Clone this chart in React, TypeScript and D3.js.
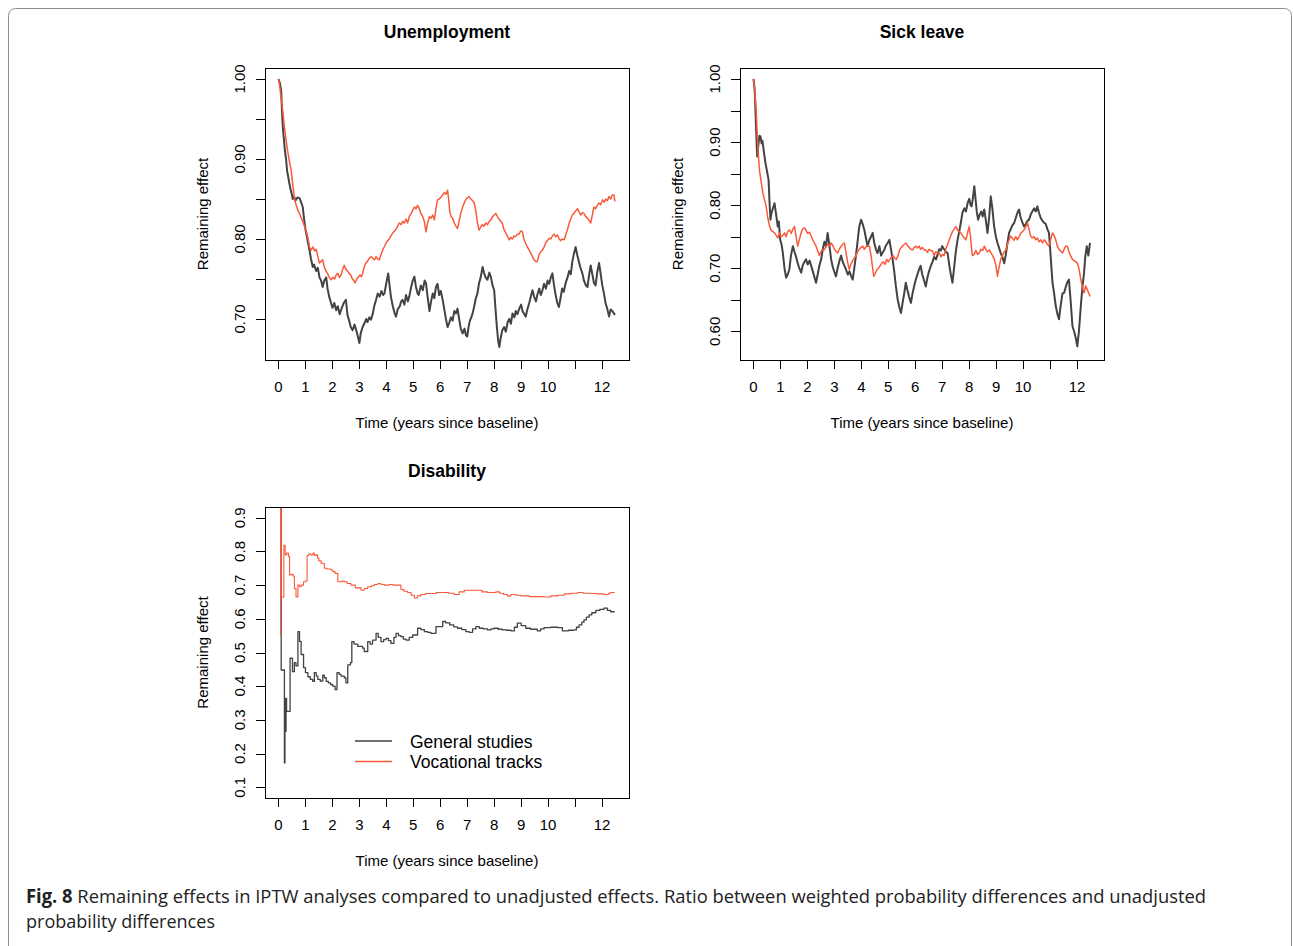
import React from 'react';
import * as d3 from 'd3';

// ---- data: [years since baseline, remaining effect] ----
const unemploymentGeneral: [number, number][] = [
  [0,1.0],[0.05,0.995],[0.1,0.985],[0.13,0.96],[0.16,0.94],[0.2,0.925],[0.24,0.91],[0.28,0.9],[0.32,0.885],[0.36,0.878],[0.4,0.87],[0.45,0.862],[0.5,0.855],[0.53,0.85],[0.58,0.853],[0.63,0.848],[0.7,0.852],[0.78,0.851],[0.84,0.846],[0.9,0.84],[0.95,0.825],[1.0,0.812],[1.03,0.807],[1.08,0.798],[1.15,0.786],[1.2,0.776],[1.27,0.765],[1.32,0.768],[1.4,0.76],[1.46,0.764],[1.52,0.752],[1.58,0.748],[1.64,0.74],[1.7,0.748],[1.77,0.752],[1.82,0.738],[1.88,0.728],[1.95,0.72],[2.0,0.714],[2.07,0.72],[2.14,0.711],[2.2,0.716],[2.27,0.706],[2.35,0.714],[2.42,0.72],[2.5,0.724],[2.56,0.705],[2.62,0.698],[2.68,0.69],[2.75,0.686],[2.82,0.693],[2.9,0.684],[2.96,0.676],[3.0,0.67],[3.05,0.682],[3.12,0.69],[3.18,0.694],[3.25,0.7],[3.3,0.696],[3.37,0.702],[3.43,0.699],[3.5,0.707],[3.55,0.716],[3.62,0.724],[3.68,0.732],[3.75,0.728],[3.82,0.735],[3.88,0.73],[3.93,0.732],[4.0,0.745],[4.07,0.757],[4.12,0.742],[4.17,0.728],[4.24,0.716],[4.3,0.708],[4.36,0.703],[4.42,0.712],[4.5,0.716],[4.55,0.722],[4.6,0.724],[4.67,0.718],[4.73,0.73],[4.8,0.722],[4.85,0.728],[4.92,0.74],[4.98,0.748],[5.04,0.753],[5.1,0.74],[5.16,0.732],[5.2,0.73],[5.28,0.742],[5.35,0.736],[5.42,0.748],[5.47,0.745],[5.53,0.728],[5.6,0.71],[5.66,0.722],[5.72,0.732],[5.78,0.726],[5.84,0.74],[5.9,0.744],[5.96,0.73],[6.02,0.735],[6.09,0.724],[6.15,0.712],[6.21,0.7],[6.27,0.69],[6.33,0.695],[6.4,0.702],[6.46,0.698],[6.52,0.71],[6.58,0.707],[6.64,0.713],[6.7,0.7],[6.76,0.688],[6.83,0.682],[6.9,0.688],[6.95,0.68],[7.0,0.678],[7.05,0.69],[7.1,0.698],[7.15,0.702],[7.2,0.707],[7.26,0.716],[7.32,0.726],[7.38,0.732],[7.44,0.745],[7.5,0.752],[7.57,0.765],[7.62,0.758],[7.68,0.752],[7.75,0.749],[7.82,0.758],[7.88,0.752],[7.94,0.742],[8.0,0.736],[8.05,0.712],[8.1,0.69],[8.15,0.672],[8.19,0.665],[8.24,0.676],[8.3,0.686],[8.37,0.69],[8.43,0.684],[8.5,0.696],[8.56,0.7],[8.62,0.694],[8.68,0.707],[8.75,0.702],[8.8,0.71],[8.86,0.706],[8.93,0.713],[9.0,0.718],[9.05,0.71],[9.12,0.706],[9.17,0.703],[9.23,0.712],[9.3,0.72],[9.36,0.728],[9.42,0.736],[9.48,0.728],[9.55,0.722],[9.6,0.73],[9.67,0.738],[9.73,0.73],[9.79,0.736],[9.85,0.744],[9.92,0.738],[9.98,0.748],[10.04,0.744],[10.1,0.752],[10.16,0.757],[10.22,0.742],[10.28,0.73],[10.34,0.72],[10.4,0.715],[10.46,0.726],[10.52,0.738],[10.58,0.734],[10.65,0.745],[10.72,0.752],[10.78,0.76],[10.84,0.756],[10.9,0.772],[10.96,0.782],[11.02,0.79],[11.08,0.78],[11.14,0.772],[11.2,0.764],[11.27,0.757],[11.33,0.748],[11.4,0.742],[11.46,0.74],[11.52,0.755],[11.58,0.767],[11.64,0.756],[11.7,0.745],[11.76,0.742],[11.82,0.758],[11.89,0.77],[11.95,0.756],[12.01,0.742],[12.07,0.732],[12.13,0.72],[12.2,0.712],[12.26,0.703],[12.32,0.712],[12.38,0.71],[12.44,0.707],[12.48,0.705]
];
const unemploymentVocational: [number, number][] = [
  [0,1.0],[0.05,0.99],[0.1,0.975],[0.16,0.96],[0.22,0.94],[0.28,0.924],[0.34,0.91],[0.4,0.898],[0.47,0.886],[0.53,0.868],[0.6,0.849],[0.66,0.842],[0.72,0.836],[0.78,0.832],[0.85,0.826],[0.92,0.82],[0.98,0.814],[1.03,0.81],[1.1,0.8],[1.15,0.79],[1.21,0.786],[1.28,0.79],[1.34,0.785],[1.4,0.787],[1.46,0.778],[1.52,0.77],[1.58,0.772],[1.64,0.774],[1.7,0.765],[1.76,0.76],[1.82,0.757],[1.88,0.752],[1.95,0.749],[2.02,0.752],[2.08,0.75],[2.14,0.755],[2.2,0.757],[2.26,0.752],[2.32,0.755],[2.38,0.762],[2.44,0.767],[2.5,0.762],[2.56,0.76],[2.62,0.757],[2.68,0.755],[2.74,0.75],[2.8,0.748],[2.84,0.745],[2.9,0.75],[2.96,0.752],[3.02,0.755],[3.08,0.753],[3.12,0.757],[3.18,0.765],[3.24,0.77],[3.3,0.772],[3.37,0.776],[3.43,0.778],[3.5,0.776],[3.56,0.774],[3.62,0.778],[3.68,0.775],[3.74,0.774],[3.8,0.78],[3.86,0.786],[3.92,0.79],[3.99,0.795],[4.05,0.798],[4.11,0.8],[4.17,0.804],[4.23,0.807],[4.3,0.81],[4.36,0.812],[4.42,0.816],[4.48,0.82],[4.55,0.818],[4.61,0.822],[4.67,0.82],[4.73,0.825],[4.79,0.82],[4.85,0.828],[4.92,0.832],[4.98,0.836],[5.04,0.84],[5.1,0.838],[5.16,0.842],[5.22,0.838],[5.28,0.832],[5.35,0.828],[5.41,0.822],[5.47,0.809],[5.53,0.82],[5.6,0.828],[5.66,0.826],[5.72,0.83],[5.78,0.824],[5.84,0.838],[5.9,0.849],[5.96,0.85],[6.02,0.852],[6.09,0.855],[6.15,0.858],[6.21,0.856],[6.27,0.861],[6.31,0.85],[6.35,0.835],[6.4,0.828],[6.46,0.826],[6.52,0.82],[6.58,0.816],[6.64,0.813],[6.7,0.822],[6.76,0.832],[6.83,0.84],[6.9,0.846],[6.96,0.85],[7.02,0.852],[7.07,0.853],[7.13,0.85],[7.2,0.848],[7.26,0.845],[7.32,0.835],[7.38,0.82],[7.44,0.811],[7.5,0.815],[7.56,0.818],[7.62,0.816],[7.69,0.82],[7.75,0.818],[7.82,0.822],[7.88,0.824],[7.94,0.828],[8.0,0.83],[8.06,0.832],[8.12,0.828],[8.18,0.825],[8.24,0.822],[8.3,0.82],[8.36,0.812],[8.42,0.808],[8.5,0.803],[8.56,0.799],[8.62,0.802],[8.68,0.8],[8.74,0.804],[8.8,0.803],[8.86,0.806],[8.92,0.806],[8.98,0.81],[9.05,0.809],[9.1,0.8],[9.16,0.795],[9.23,0.79],[9.3,0.786],[9.36,0.782],[9.42,0.778],[9.48,0.774],[9.54,0.772],[9.6,0.772],[9.66,0.78],[9.72,0.784],[9.79,0.786],[9.85,0.79],[9.92,0.796],[9.98,0.798],[10.04,0.801],[10.1,0.8],[10.16,0.804],[10.22,0.806],[10.28,0.803],[10.35,0.805],[10.41,0.8],[10.47,0.798],[10.53,0.8],[10.6,0.799],[10.66,0.806],[10.72,0.812],[10.78,0.82],[10.84,0.825],[10.9,0.83],[10.96,0.832],[11.02,0.835],[11.09,0.838],[11.15,0.834],[11.21,0.83],[11.27,0.833],[11.33,0.832],[11.4,0.828],[11.46,0.826],[11.52,0.823],[11.58,0.82],[11.64,0.83],[11.7,0.84],[11.76,0.838],[11.82,0.842],[11.89,0.845],[11.95,0.843],[12.02,0.849],[12.08,0.846],[12.14,0.85],[12.2,0.848],[12.26,0.853],[12.32,0.85],[12.38,0.855],[12.44,0.855],[12.48,0.847]
];
const sickGeneral: [number, number][] = [
  [0,1.0],[0.04,0.985],[0.06,0.967],[0.09,0.93],[0.12,0.895],[0.14,0.877],[0.18,0.895],[0.22,0.91],[0.26,0.909],[0.3,0.898],[0.33,0.902],[0.36,0.893],[0.4,0.88],[0.44,0.868],[0.47,0.861],[0.51,0.852],[0.56,0.84],[0.6,0.8],[0.63,0.777],[0.67,0.788],[0.72,0.795],[0.78,0.803],[0.84,0.785],[0.9,0.766],[0.94,0.774],[0.99,0.745],[1.04,0.738],[1.09,0.724],[1.15,0.7],[1.21,0.685],[1.27,0.69],[1.33,0.698],[1.39,0.72],[1.46,0.735],[1.52,0.726],[1.58,0.718],[1.64,0.708],[1.7,0.7],[1.77,0.693],[1.83,0.705],[1.89,0.71],[1.95,0.714],[2.01,0.706],[2.08,0.712],[2.14,0.704],[2.2,0.695],[2.26,0.686],[2.32,0.677],[2.38,0.69],[2.45,0.705],[2.51,0.714],[2.57,0.73],[2.63,0.742],[2.69,0.735],[2.75,0.756],[2.82,0.735],[2.88,0.714],[2.94,0.702],[3.0,0.694],[3.06,0.687],[3.12,0.7],[3.19,0.712],[3.25,0.72],[3.31,0.71],[3.37,0.704],[3.43,0.698],[3.5,0.69],[3.56,0.695],[3.62,0.688],[3.68,0.682],[3.74,0.7],[3.8,0.72],[3.86,0.742],[3.92,0.765],[3.99,0.777],[4.05,0.77],[4.11,0.761],[4.17,0.748],[4.23,0.735],[4.3,0.745],[4.36,0.75],[4.42,0.756],[4.48,0.74],[4.54,0.73],[4.6,0.724],[4.67,0.735],[4.73,0.72],[4.79,0.725],[4.85,0.729],[4.91,0.736],[4.98,0.74],[5.04,0.745],[5.1,0.73],[5.16,0.714],[5.22,0.695],[5.28,0.672],[5.35,0.65],[5.41,0.638],[5.47,0.629],[5.53,0.645],[5.59,0.66],[5.65,0.677],[5.71,0.665],[5.77,0.655],[5.84,0.645],[5.9,0.66],[5.96,0.672],[6.02,0.682],[6.08,0.69],[6.14,0.698],[6.2,0.704],[6.26,0.69],[6.33,0.68],[6.39,0.671],[6.45,0.685],[6.51,0.695],[6.58,0.704],[6.64,0.71],[6.7,0.718],[6.77,0.714],[6.83,0.722],[6.89,0.73],[6.95,0.728],[7.0,0.735],[7.07,0.73],[7.13,0.726],[7.2,0.724],[7.26,0.705],[7.32,0.69],[7.38,0.677],[7.44,0.7],[7.5,0.725],[7.57,0.745],[7.63,0.758],[7.69,0.772],[7.75,0.788],[7.82,0.795],[7.88,0.79],[7.94,0.803],[8.0,0.81],[8.05,0.8],[8.09,0.798],[8.14,0.812],[8.19,0.83],[8.24,0.808],[8.28,0.79],[8.33,0.777],[8.39,0.785],[8.45,0.79],[8.5,0.782],[8.56,0.793],[8.62,0.775],[8.68,0.756],[8.74,0.78],[8.8,0.814],[8.86,0.795],[8.92,0.768],[8.99,0.75],[9.05,0.74],[9.11,0.732],[9.17,0.724],[9.23,0.718],[9.3,0.708],[9.36,0.722],[9.42,0.74],[9.48,0.756],[9.54,0.762],[9.6,0.768],[9.67,0.772],[9.73,0.78],[9.79,0.788],[9.85,0.793],[9.91,0.78],[9.98,0.772],[10.04,0.766],[10.1,0.77],[10.16,0.775],[10.22,0.777],[10.28,0.785],[10.34,0.79],[10.41,0.795],[10.47,0.79],[10.53,0.798],[10.59,0.788],[10.65,0.78],[10.72,0.775],[10.78,0.772],[10.84,0.77],[10.9,0.762],[10.96,0.756],[11.02,0.72],[11.09,0.677],[11.15,0.66],[11.21,0.64],[11.27,0.628],[11.33,0.619],[11.39,0.64],[11.46,0.66],[11.52,0.661],[11.58,0.67],[11.64,0.678],[11.7,0.682],[11.76,0.65],[11.83,0.608],[11.89,0.6],[11.95,0.59],[12.01,0.576],[12.07,0.6],[12.14,0.64],[12.2,0.67],[12.26,0.693],[12.31,0.72],[12.36,0.735],[12.42,0.72],[12.48,0.74]
];
const sickVocational: [number, number][] = [
  [0,1.0],[0.05,0.98],[0.1,0.951],[0.15,0.9],[0.22,0.856],[0.28,0.838],[0.35,0.819],[0.41,0.808],[0.47,0.798],[0.53,0.78],[0.6,0.766],[0.66,0.76],[0.72,0.758],[0.78,0.756],[0.84,0.752],[0.9,0.748],[0.96,0.756],[1.02,0.75],[1.09,0.752],[1.15,0.756],[1.21,0.75],[1.27,0.758],[1.33,0.761],[1.4,0.755],[1.46,0.762],[1.52,0.766],[1.58,0.75],[1.64,0.735],[1.7,0.745],[1.76,0.755],[1.82,0.762],[1.89,0.764],[1.95,0.76],[2.01,0.755],[2.08,0.757],[2.14,0.751],[2.2,0.745],[2.26,0.74],[2.32,0.735],[2.38,0.728],[2.44,0.72],[2.5,0.726],[2.56,0.73],[2.62,0.729],[2.69,0.734],[2.75,0.738],[2.81,0.735],[2.88,0.74],[2.94,0.736],[3.0,0.73],[3.06,0.727],[3.12,0.724],[3.18,0.73],[3.25,0.735],[3.31,0.738],[3.37,0.74],[3.43,0.725],[3.49,0.71],[3.55,0.698],[3.61,0.706],[3.68,0.712],[3.74,0.716],[3.8,0.72],[3.86,0.726],[3.92,0.73],[3.99,0.733],[4.05,0.735],[4.11,0.73],[4.17,0.734],[4.23,0.736],[4.3,0.735],[4.36,0.72],[4.42,0.7],[4.46,0.687],[4.52,0.692],[4.58,0.698],[4.64,0.7],[4.7,0.704],[4.76,0.708],[4.82,0.71],[4.88,0.706],[4.94,0.714],[5.0,0.71],[5.06,0.714],[5.12,0.718],[5.18,0.72],[5.24,0.716],[5.3,0.714],[5.36,0.72],[5.42,0.729],[5.48,0.733],[5.54,0.736],[5.6,0.738],[5.66,0.74],[5.72,0.735],[5.78,0.733],[5.84,0.73],[5.9,0.729],[5.96,0.733],[6.02,0.735],[6.08,0.732],[6.14,0.735],[6.2,0.73],[6.26,0.733],[6.33,0.729],[6.39,0.729],[6.45,0.725],[6.51,0.73],[6.58,0.728],[6.64,0.727],[6.7,0.72],[6.76,0.726],[6.83,0.724],[6.89,0.724],[6.95,0.718],[7.01,0.722],[7.07,0.72],[7.13,0.73],[7.2,0.738],[7.26,0.745],[7.32,0.752],[7.38,0.758],[7.44,0.762],[7.51,0.766],[7.57,0.76],[7.63,0.758],[7.69,0.756],[7.75,0.752],[7.82,0.748],[7.88,0.745],[7.94,0.756],[8.0,0.766],[8.05,0.75],[8.09,0.73],[8.12,0.72],[8.18,0.722],[8.25,0.728],[8.31,0.722],[8.37,0.724],[8.43,0.73],[8.5,0.728],[8.56,0.735],[8.62,0.73],[8.68,0.726],[8.75,0.729],[8.81,0.724],[8.87,0.72],[8.93,0.714],[8.99,0.705],[9.05,0.687],[9.1,0.7],[9.17,0.714],[9.23,0.72],[9.3,0.726],[9.36,0.729],[9.42,0.738],[9.48,0.745],[9.54,0.751],[9.6,0.748],[9.66,0.744],[9.73,0.75],[9.79,0.745],[9.85,0.75],[9.92,0.756],[9.98,0.758],[10.04,0.761],[10.1,0.766],[10.16,0.772],[10.22,0.762],[10.28,0.751],[10.34,0.748],[10.41,0.75],[10.47,0.745],[10.53,0.748],[10.59,0.742],[10.66,0.745],[10.72,0.74],[10.78,0.745],[10.84,0.742],[10.9,0.738],[10.96,0.735],[11.02,0.745],[11.09,0.756],[11.15,0.752],[11.21,0.745],[11.27,0.735],[11.33,0.73],[11.4,0.727],[11.46,0.724],[11.52,0.73],[11.58,0.735],[11.64,0.735],[11.7,0.726],[11.76,0.72],[11.83,0.714],[11.89,0.712],[11.95,0.71],[12.01,0.708],[12.07,0.7],[12.14,0.682],[12.2,0.67],[12.26,0.661],[12.32,0.672],[12.38,0.666],[12.44,0.66],[12.48,0.655]
];
const disabilityGeneral: [number, number][] = [
  [0.05,1.2],[0.1,0.448],[0.2,0.448],[0.22,0.172],[0.24,0.364],[0.26,0.266],[0.28,0.364],[0.3,0.325],[0.4,0.325],[0.43,0.483],[0.52,0.443],[0.59,0.47],[0.65,0.46],[0.72,0.562],[0.78,0.533],[0.84,0.494],[0.93,0.455],[1.0,0.44],[1.09,0.428],[1.18,0.42],[1.27,0.414],[1.33,0.44],[1.4,0.43],[1.46,0.42],[1.55,0.415],[1.64,0.433],[1.7,0.425],[1.77,0.414],[1.85,0.41],[1.93,0.405],[2.01,0.4],[2.1,0.39],[2.17,0.44],[2.25,0.435],[2.32,0.43],[2.44,0.425],[2.5,0.41],[2.57,0.463],[2.67,0.47],[2.72,0.532],[2.8,0.525],[2.94,0.518],[3.12,0.513],[3.18,0.503],[3.31,0.532],[3.4,0.525],[3.49,0.537],[3.62,0.557],[3.7,0.545],[3.8,0.532],[3.9,0.538],[3.99,0.542],[4.08,0.535],[4.17,0.527],[4.28,0.545],[4.36,0.557],[4.45,0.55],[4.54,0.547],[4.63,0.54],[4.73,0.537],[4.85,0.545],[4.98,0.552],[5.16,0.572],[5.28,0.568],[5.41,0.562],[5.53,0.56],[5.65,0.557],[5.84,0.577],[6.09,0.592],[6.2,0.588],[6.35,0.582],[6.5,0.576],[6.64,0.572],[6.8,0.568],[6.95,0.562],[7.07,0.56],[7.2,0.57],[7.32,0.577],[7.45,0.572],[7.6,0.57],[7.75,0.567],[7.88,0.57],[8.0,0.572],[8.15,0.569],[8.3,0.567],[8.45,0.566],[8.62,0.564],[8.75,0.575],[8.86,0.587],[9.0,0.58],[9.17,0.572],[9.35,0.569],[9.6,0.564],[9.72,0.57],[9.85,0.574],[10.1,0.575],[10.35,0.574],[10.53,0.564],[10.75,0.566],[10.96,0.567],[11.05,0.575],[11.15,0.582],[11.25,0.59],[11.33,0.597],[11.42,0.605],[11.52,0.612],[11.62,0.618],[11.77,0.625],[11.92,0.628],[12.07,0.632],[12.2,0.625],[12.32,0.621],[12.47,0.621]
];
const disabilityVocational: [number, number][] = [
  [0.07,0.552],[0.08,1.2],[0.1,0.665],[0.12,0.665],[0.2,0.818],[0.25,0.79],[0.3,0.795],[0.37,0.785],[0.41,0.73],[0.47,0.732],[0.54,0.727],[0.59,0.69],[0.65,0.665],[0.72,0.7],[0.78,0.695],[0.84,0.7],[0.93,0.71],[1.02,0.713],[1.06,0.788],[1.12,0.792],[1.2,0.79],[1.28,0.795],[1.33,0.788],[1.39,0.79],[1.45,0.78],[1.5,0.772],[1.58,0.765],[1.7,0.75],[1.8,0.748],[1.95,0.745],[2.02,0.74],[2.1,0.735],[2.2,0.71],[2.35,0.712],[2.44,0.71],[2.55,0.705],[2.69,0.7],[2.85,0.692],[3.06,0.685],[3.18,0.69],[3.31,0.695],[3.45,0.698],[3.55,0.702],[3.68,0.705],[3.8,0.702],[3.93,0.7],[4.1,0.702],[4.25,0.7],[4.42,0.7],[4.54,0.687],[4.65,0.682],[4.79,0.678],[4.92,0.67],[5.04,0.662],[5.15,0.668],[5.28,0.672],[5.45,0.675],[5.65,0.675],[5.85,0.678],[6.15,0.678],[6.3,0.676],[6.52,0.672],[6.7,0.68],[6.89,0.685],[7.1,0.685],[7.38,0.685],[7.55,0.68],[7.75,0.678],[8.06,0.68],[8.2,0.676],[8.35,0.672],[8.49,0.668],[8.62,0.672],[8.8,0.67],[8.99,0.668],[9.3,0.666],[9.6,0.666],[9.85,0.665],[10.1,0.668],[10.35,0.67],[10.6,0.674],[10.85,0.676],[11.09,0.678],[11.3,0.676],[11.58,0.675],[11.8,0.674],[12.07,0.672],[12.25,0.676],[12.32,0.678],[12.47,0.678]
];

const xTicks = [0,1,2,3,4,5,6,7,8,9,10,11,12];
const xTickLabels = ['0','1','2','3','4','5','6','7','8','9','10','','12'];
const unempYTicks = [0.70,0.75,0.80,0.85,0.90,0.95,1.00];
const unempYLabels = ['0.70','','0.80','','0.90','','1.00'];
const sickYTicks = [0.60,0.65,0.70,0.75,0.80,0.85,0.90,0.95,1.00];
const sickYLabels = ['0.60','','0.70','','0.80','','0.90','','1.00'];
const disYTicks = [0.1,0.2,0.3,0.4,0.5,0.6,0.7,0.8,0.9];
const disYLabels = ['0.1','0.2','0.3','0.4','0.5','0.6','0.7','0.8','0.9'];
const legendLabels = ['General studies','Vocational tracks'];

const GREY = '#434343';
const RED = '#fa5a3c';
const FONT = '"Liberation Sans", Arial, Helvetica, sans-serif';

type PanelProps = {
  id: string;
  title: string;
  left: number; top: number; width: number; height: number;
  yDomain: [number, number];
  yTicks: number[]; yLabels: string[];
  general: [number, number][]; vocational: [number, number][];
  step?: boolean; legend?: boolean;
};

function Panel(p: PanelProps) {
  const x = d3.scaleLinear().domain([-0.5, 13]).range([p.left, p.left + p.width]);
  const y = d3.scaleLinear().domain(p.yDomain).range([p.top + p.height, p.top]);
  const line = d3.line<[number, number]>()
    .x(d => x(d[0])).y(d => y(d[1]))
    .curve(p.step ? d3.curveStepAfter : d3.curveLinear);
  const bottom = p.top + p.height;
  const cx = p.left + p.width / 2;
  return (
    <g>
      <defs>
        <clipPath id={p.id}>
          <rect x={p.left} y={p.top} width={p.width} height={p.height} />
        </clipPath>
      </defs>
      <text x={cx} y={p.top - 30} textAnchor="middle" fontSize={17.5} fontWeight="bold" fontFamily={FONT}>{p.title}</text>
      <g clipPath={`url(#${p.id})`} fill="none" strokeLinejoin="round">
        <path d={line(p.general) || ''} stroke={GREY} strokeWidth={p.step ? 1.3 : 2} />
        <path d={line(p.vocational) || ''} stroke={RED} strokeWidth={p.step ? 1.1 : 1.5} />
      </g>
      <rect x={p.left + 0.5} y={p.top + 0.5} width={p.width} height={p.height} fill="none" stroke="#000" strokeWidth={1} />
      {xTicks.map((t, i) => (
        <g key={'x' + t}>
          <line x1={Math.round(x(t)) + 0.5} x2={Math.round(x(t)) + 0.5} y1={bottom} y2={bottom + 9} stroke="#000" />
          <text x={x(t)} y={bottom + 32} textAnchor="middle" fontSize={15} fontFamily={FONT}>{xTickLabels[i]}</text>
        </g>
      ))}
      {p.yTicks.map((v, i) => (
        <g key={'y' + v}>
          <line x1={p.left - 9} x2={p.left} y1={Math.round(y(v)) + 0.5} y2={Math.round(y(v)) + 0.5} stroke="#000" />
          {p.yLabels[i] && (
            <text transform={`translate(${p.left - 20},${y(v)}) rotate(-90)`} textAnchor="middle" fontSize={15} fontFamily={FONT}>{p.yLabels[i]}</text>
          )}
        </g>
      ))}
      <text transform={`translate(${p.left - 57},${p.top + p.height / 2}) rotate(-90)`} textAnchor="middle" fontSize={15} fontFamily={FONT}>Remaining effect</text>
      <text x={cx} y={bottom + 68} textAnchor="middle" fontSize={15} fontFamily={FONT}>Time (years since baseline)</text>
      {p.legend && legendLabels.map((lab, i) => (
        <g key={lab}>
          <line x1={355} x2={392} y1={741 + i * 20.5} y2={741 + i * 20.5} stroke={i === 0 ? GREY : RED} strokeWidth={1.3} />
          <text x={410} y={747.5 + i * 20.5} fontSize={17.5} fontFamily={FONT}>{lab}</text>
        </g>
      ))}
    </g>
  );
}

export default function App() {
  return (
    <svg width={1293} height={946} style={{ position: 'absolute', left: 0, top: 0, background: '#fff' }}>
      <rect x={8.5} y={8.5} width={1283} height={1000} rx={7} fill="#fff" stroke="#8c8c8c" strokeWidth={1} />
      <Panel id="c1" title="Unemployment" left={265} top={68} width={364} height={292}
        yDomain={[0.64875, 1.01375]} yTicks={unempYTicks} yLabels={unempYLabels}
        general={unemploymentGeneral} vocational={unemploymentVocational} />
      <Panel id="c2" title="Sick leave" left={740} top={68} width={364} height={292}
        yDomain={[0.5545, 1.0174]} yTicks={sickYTicks} yLabels={sickYLabels}
        general={sickGeneral} vocational={sickVocational} />
      <Panel id="c3" title="Disability" left={265} top={507} width={364} height={291}
        yDomain={[0.068, 0.932]} yTicks={disYTicks} yLabels={disYLabels}
        general={disabilityGeneral} vocational={disabilityVocational} step legend />
      <text x={26} y={903} fontSize={19} fontFamily='"Open Sans", "Noto Sans", sans-serif' fill="#222"
        textLength={1180} lengthAdjust="spacingAndGlyphs">
        <tspan fontWeight="bold">Fig. 8</tspan> Remaining effects in IPTW analyses compared to unadjusted effects. Ratio between weighted probability differences and unadjusted
      </text>
      <text x={26} y={928} fontSize={19} fontFamily='"Open Sans", "Noto Sans", sans-serif' fill="#222"
        textLength={189} lengthAdjust="spacingAndGlyphs">probability differences</text>
    </svg>
  );
}
